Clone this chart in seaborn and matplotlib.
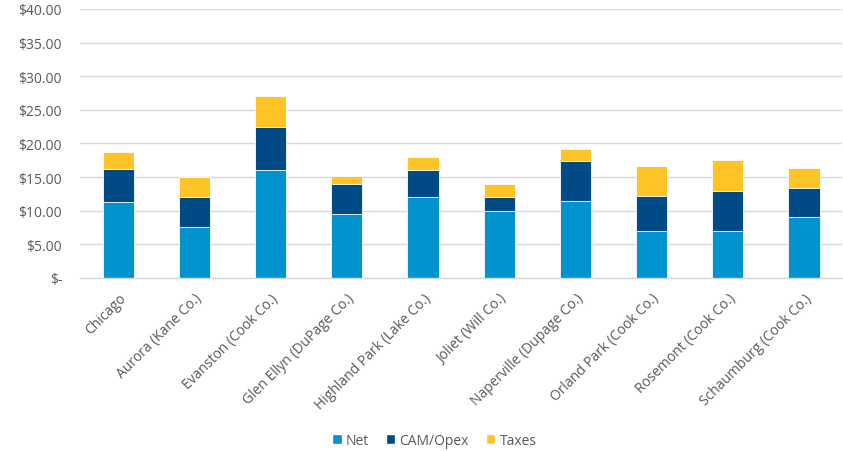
import matplotlib
matplotlib.use("Agg")
import matplotlib.pyplot as plt
import seaborn as sns
import pandas as pd
import numpy as np
from matplotlib.ticker import FuncFormatter, MultipleLocator
from matplotlib.patches import Patch

cities = ["Chicago", "Aurora (Kane Co.)", "Evanston (Cook Co.)", "Glen Ellyn (DuPage Co.)",
          "Highland Park (Lake Co.)", "Joliet (Will Co.)", "Naperville (Dupage Co.)",
          "Orland Park (Cook Co.)", "Rosemont (Cook Co.)", "Schaumburg (Cook Co.)"]
net = [11.25, 7.5, 16.0, 9.5, 12.0, 10.0, 11.5, 7.0, 7.0, 9.0]
cam = [5.0, 4.5, 6.5, 4.5, 4.0, 2.0, 5.85, 5.2, 5.9, 4.4]
taxes = [2.5, 3.0, 4.5, 1.15, 2.0, 2.0, 1.85, 4.5, 4.7, 3.0]

c_net, c_cam, c_tax = "#0093D0", "#004B85", "#FFC425"

df = pd.DataFrame({"city": cities, "Net": net, "CAM/Opex": cam, "Taxes": taxes})
df["lvl_net"] = df["Net"]
df["lvl_cam"] = df["Net"] + df["CAM/Opex"]
df["lvl_tax"] = df["lvl_cam"] + df["Taxes"]

sns.set_style("white")
plt.rcParams["font.family"] = ["Open Sans", "DejaVu Sans"]

fig = plt.figure(figsize=(8.43, 4.52), dpi=100)
ax = fig.add_axes([0.095, 0.383, 0.904, 0.595])

kw = dict(width=0.41, edgecolor="white", linewidth=0.6, errorbar=None, ax=ax, order=cities)
sns.barplot(data=df, x="city", y="lvl_tax", color=c_tax, saturation=1, **kw)
sns.barplot(data=df, x="city", y="lvl_cam", color=c_cam, saturation=1, **kw)
sns.barplot(data=df, x="city", y="lvl_net", color=c_net, saturation=1, **kw)

ax.set_ylim(0, 40)
ax.set_xlim(-0.5, len(cities) - 0.5)
ax.yaxis.set_major_locator(MultipleLocator(5))
ax.yaxis.set_major_formatter(FuncFormatter(lambda v, p: "$-" if abs(v) < 1e-9 else f"${v:.2f}"))
ax.grid(axis="y", color="#D9D9D9", linewidth=1.0)
ax.set_axisbelow(True)
for s in ["top", "right", "left"]:
    ax.spines[s].set_visible(False)
ax.spines["bottom"].set_color("#D9D9D9")
ax.spines["bottom"].set_linewidth(1.0)
ax.tick_params(axis="both", length=0, colors="#595959", labelsize=10)
ax.tick_params(axis="y", pad=13)
ax.set_xlabel("")
ax.set_ylabel("")
plt.setp(ax.get_xticklabels(), rotation=45, ha="right", rotation_mode="anchor")
ax.tick_params(axis="x", pad=9)

handles = [Patch(facecolor=c_net, label="Net"), Patch(facecolor=c_cam, label="CAM/Opex"),
           Patch(facecolor=c_tax, label="Taxes")]
fig.legend(handles=handles, loc="center", bbox_to_anchor=(0.515, 0.024), ncol=3, frameon=False,
           fontsize=10, handlelength=0.7, handleheight=0.7, handletextpad=0.3, columnspacing=1.2,
           labelcolor="#595959")

fig.savefig("out.png", dpi=100)
